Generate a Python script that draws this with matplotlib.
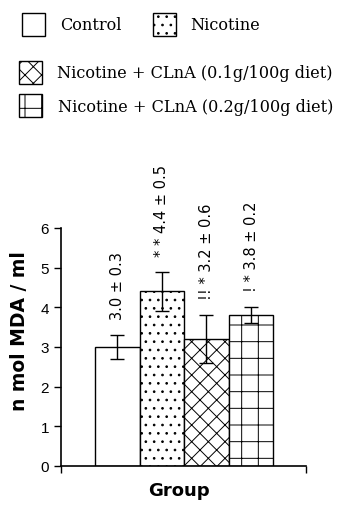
import matplotlib
matplotlib.use("Agg")
import matplotlib.pyplot as plt
from matplotlib.patches import Rectangle

groups = ["Control", "Nicotine", "Nicotine + CLnA (0.1g/100g diet)", "Nicotine + CLnA (0.2g/100g diet)"]
means = [3.0, 4.4, 3.2, 3.8]
errors = [0.3, 0.5, 0.6, 0.2]
labels = ["3.0 ± 0.3", "* * 4.4 ± 0.5", "!! * 3.2 ± 0.6", "! * 3.8 ± 0.2"]
hatches = ["", "..", "//\\\\", "+"]
yticks = [0, 1, 2, 3, 4, 5, 6]

plt.rcParams['hatch.linewidth'] = 0.7
fig = plt.figure(figsize=(3.5, 5.1), dpi=100)
W, H = 350, 510
ax = fig.add_axes([61 / W, 1 - 467 / H, (306 - 61) / W, (467 - 229) / H])

x = list(range(len(means)))
ax.bar(x, means, width=1.0, color="white", edgecolor="black", linewidth=1.0,
       hatch=hatches, yerr=errors, capsize=5,
       error_kw=dict(elinewidth=1.0, capthick=1.0, ecolor="black"))
for xi, m, e, lab in zip(x, means, errors, labels):
    ax.text(xi, m + e + 0.4, lab, rotation=90, ha="center", va="bottom",
            fontsize=10.5, family="DejaVu Sans", clip_on=False)

ax.set_xlim(-1.26, 4.23)
ax.set_ylim(0, 6)
ax.set_yticks(yticks)
ax.set_yticklabels([str(t) for t in yticks], family="Liberation Sans", fontsize=11)
ax.set_xticks([-1.26, 4.23])
ax.set_xticklabels(["", ""])
ax.tick_params(axis="both", direction="out", length=5, width=1.0)
for s in ["top", "right"]:
    ax.spines[s].set_visible(False)
for s in ["left", "bottom"]:
    ax.spines[s].set_linewidth(1.2)
ax.set_ylabel("n mol MDA / ml", family="DejaVu Sans", fontweight="bold", fontsize=13.5)
ax.yaxis.set_label_coords(-0.13, 0.571)
ax.set_xlabel("Group", family="DejaVu Sans", fontweight="bold", fontsize=13)
ax.xaxis.set_label_coords(0.482, -0.062)

# legend drawn in figure coordinates
legend_items = [
    (22, 14, 60, hatches[0], groups[0]),
    (153, 14, 190, hatches[1], groups[1]),
    (19, 62, 57, hatches[2], groups[2]),
    (19, 95, 58, hatches[3], groups[3]),
]
for bx, by, tx, h, name in legend_items:
    r = Rectangle((bx / W, 1 - (by + 23) / H), 23 / W, 23 / H, transform=fig.transFigure,
                  facecolor="white", edgecolor="black", hatch=h, linewidth=1.0)
    fig.patches.append(r)
    fig.text(tx / W, 1 - (by + 12) / H, name, ha="left", va="center",
             family="DejaVu Serif", fontsize=11.6)

fig.savefig("out.png", dpi=100)
